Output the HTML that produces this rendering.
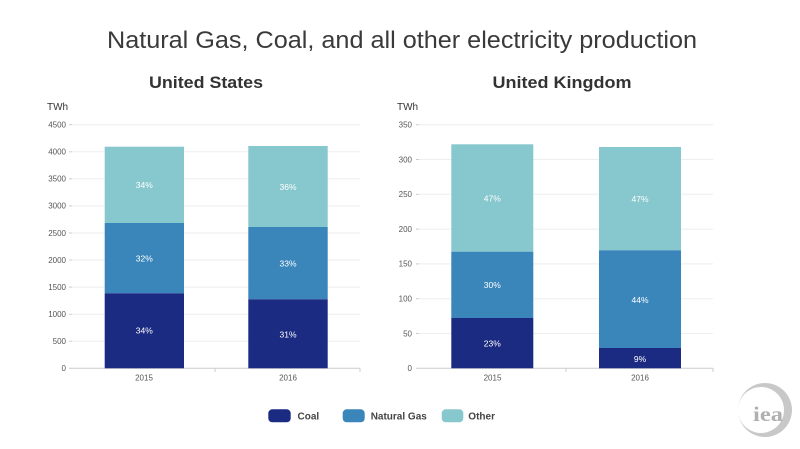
<!DOCTYPE html>
<html><head><meta charset="utf-8"><style>
html,body{margin:0;padding:0;background:#fff;}
svg{display:block;font-family:"Liberation Sans",sans-serif;}
</style></head><body>
<svg width="800" height="449" viewBox="0 0 800 449" xmlns="http://www.w3.org/2000/svg">
<rect width="800" height="449" fill="#fff"/>
<text x="402" y="48" text-anchor="middle" font-size="24" fill="#3a3a3a" textLength="590" lengthAdjust="spacingAndGlyphs">Natural Gas, Coal, and all other electricity production</text>
<text x="206" y="88" text-anchor="middle" font-size="17" font-weight="bold" fill="#333" textLength="114" lengthAdjust="spacingAndGlyphs">United States</text>
<text x="562" y="88" text-anchor="middle" font-size="17" font-weight="bold" fill="#333" textLength="139" lengthAdjust="spacingAndGlyphs">United Kingdom</text>

<!-- Left chart -->
<text x="47" y="110" font-size="10" fill="#333">TWh</text>
<g stroke="#eeeeee" stroke-width="1">
<line x1="72" x2="360" y1="124.7" y2="124.7"/>
<line x1="72" x2="360" y1="151.8" y2="151.8"/>
<line x1="72" x2="360" y1="178.8" y2="178.8"/>
<line x1="72" x2="360" y1="205.9" y2="205.9"/>
<line x1="72" x2="360" y1="233" y2="233"/>
<line x1="72" x2="360" y1="260" y2="260"/>
<line x1="72" x2="360" y1="287.1" y2="287.1"/>
<line x1="72" x2="360" y1="314.2" y2="314.2"/>
<line x1="72" x2="360" y1="341.2" y2="341.2"/>
</g>
<g stroke="#cccccc" stroke-width="1">
<line x1="69" x2="72" y1="124.7" y2="124.7"/><line x1="69" x2="72" y1="151.8" y2="151.8"/><line x1="69" x2="72" y1="178.8" y2="178.8"/><line x1="69" x2="72" y1="205.9" y2="205.9"/><line x1="69" x2="72" y1="233" y2="233"/><line x1="69" x2="72" y1="260" y2="260"/><line x1="69" x2="72" y1="287.1" y2="287.1"/><line x1="69" x2="72" y1="314.2" y2="314.2"/><line x1="69" x2="72" y1="341.2" y2="341.2"/>
<line x1="69" x2="360" y1="368.3" y2="368.3"/>
<line x1="215" x2="215" y1="368.3" y2="372"/>
<line x1="360" x2="360" y1="368.3" y2="372"/>
</g>
<g font-size="8" fill="#555" text-anchor="end">
<text x="66" y="127.5">4500</text><text x="66" y="154.6">4000</text><text x="66" y="181.6">3500</text><text x="66" y="208.7">3000</text><text x="66" y="235.8">2500</text><text x="66" y="262.8">2000</text><text x="66" y="289.9">1500</text><text x="66" y="317">1000</text><text x="66" y="344">500</text><text x="66" y="371.1">0</text>
</g>
<rect x="104.7" y="146.7" width="79.3" height="76.3" fill="#87c8ce"/>
<rect x="104.7" y="223" width="79.3" height="70.3" fill="#3a86bb"/>
<rect x="104.7" y="293.3" width="79.3" height="75" fill="#1c2b82"/>
<rect x="248.3" y="146" width="79.4" height="81" fill="#87c8ce"/>
<rect x="248.3" y="227" width="79.4" height="72.3" fill="#3a86bb"/>
<rect x="248.3" y="299.3" width="79.4" height="69" fill="#1c2b82"/>
<g font-size="8.5" fill="#fff" text-anchor="middle">
<text x="144.3" y="188">34%</text><text x="144.3" y="261.3">32%</text><text x="144.3" y="333.7">34%</text>
<text x="288" y="190">36%</text><text x="288" y="266.3">33%</text><text x="288" y="337.3">31%</text>
</g>
<g font-size="8" fill="#555" text-anchor="middle">
<text x="144" y="380.5">2015</text><text x="288" y="380.5">2016</text>
</g>

<!-- Right chart -->
<text x="397" y="110" font-size="10" fill="#333">TWh</text>
<g stroke="#eeeeee" stroke-width="1">
<line x1="419" x2="713" y1="124.7" y2="124.7"/>
<line x1="419" x2="713" y1="159.5" y2="159.5"/>
<line x1="419" x2="713" y1="194.3" y2="194.3"/>
<line x1="419" x2="713" y1="229.1" y2="229.1"/>
<line x1="419" x2="713" y1="263.9" y2="263.9"/>
<line x1="419" x2="713" y1="298.7" y2="298.7"/>
<line x1="419" x2="713" y1="333.5" y2="333.5"/>
</g>
<g stroke="#cccccc" stroke-width="1">
<line x1="416" x2="419" y1="124.7" y2="124.7"/><line x1="416" x2="419" y1="159.5" y2="159.5"/><line x1="416" x2="419" y1="194.3" y2="194.3"/><line x1="416" x2="419" y1="229.1" y2="229.1"/><line x1="416" x2="419" y1="263.9" y2="263.9"/><line x1="416" x2="419" y1="298.7" y2="298.7"/><line x1="416" x2="419" y1="333.5" y2="333.5"/>
<line x1="416" x2="713" y1="368.3" y2="368.3"/>
<line x1="566" x2="566" y1="368.3" y2="372"/>
<line x1="713" x2="713" y1="368.3" y2="372"/>
</g>
<g font-size="8" fill="#555" text-anchor="end">
<text x="412" y="127.5">350</text><text x="412" y="162.3">300</text><text x="412" y="197.1">250</text><text x="412" y="231.9">200</text><text x="412" y="266.7">150</text><text x="412" y="301.5">100</text><text x="412" y="336.3">50</text><text x="412" y="371.1">0</text>
</g>
<rect x="451.3" y="144.3" width="82" height="107.4" fill="#87c8ce"/>
<rect x="451.3" y="251.7" width="82" height="66.3" fill="#3a86bb"/>
<rect x="451.3" y="318" width="82" height="50.3" fill="#1c2b82"/>
<rect x="599" y="147" width="82" height="103.3" fill="#87c8ce"/>
<rect x="599" y="250.3" width="82" height="97.7" fill="#3a86bb"/>
<rect x="599" y="348" width="82" height="20.3" fill="#1c2b82"/>
<g font-size="8.5" fill="#fff" text-anchor="middle">
<text x="492.3" y="201.3">47%</text><text x="492.3" y="288">30%</text><text x="492.3" y="346.3">23%</text>
<text x="640" y="202">47%</text><text x="640" y="303">44%</text><text x="640" y="362">9%</text>
</g>
<g font-size="8" fill="#555" text-anchor="middle">
<text x="492.5" y="380.5">2015</text><text x="640" y="380.5">2016</text>
</g>

<!-- Legend -->
<rect x="268.3" y="409.3" width="22.4" height="13" rx="4" fill="#1c2b82"/>
<text x="297.5" y="419.3" font-size="10" font-weight="bold" fill="#444">Coal</text>
<rect x="342.7" y="409.3" width="22" height="13" rx="4" fill="#3a86bb"/>
<text x="370.7" y="419.3" font-size="10" font-weight="bold" fill="#444">Natural Gas</text>
<rect x="441.7" y="409.3" width="21.6" height="13" rx="4" fill="#87c8ce"/>
<text x="468.3" y="419.3" font-size="10" font-weight="bold" fill="#444">Other</text>

<!-- IEA logo -->
<path fill="#c8c8c8" fill-rule="evenodd" d="M765,383 a27,27 0 1,1 -0.01,0 Z M761,387 a23,23 0 1,0 0.01,0 Z"/>
<text x="753" y="421" font-family="Liberation Serif,serif" font-size="21" font-weight="bold" fill="#b0b0b0" textLength="30" lengthAdjust="spacingAndGlyphs">iea</text>
</svg>
</body></html>
